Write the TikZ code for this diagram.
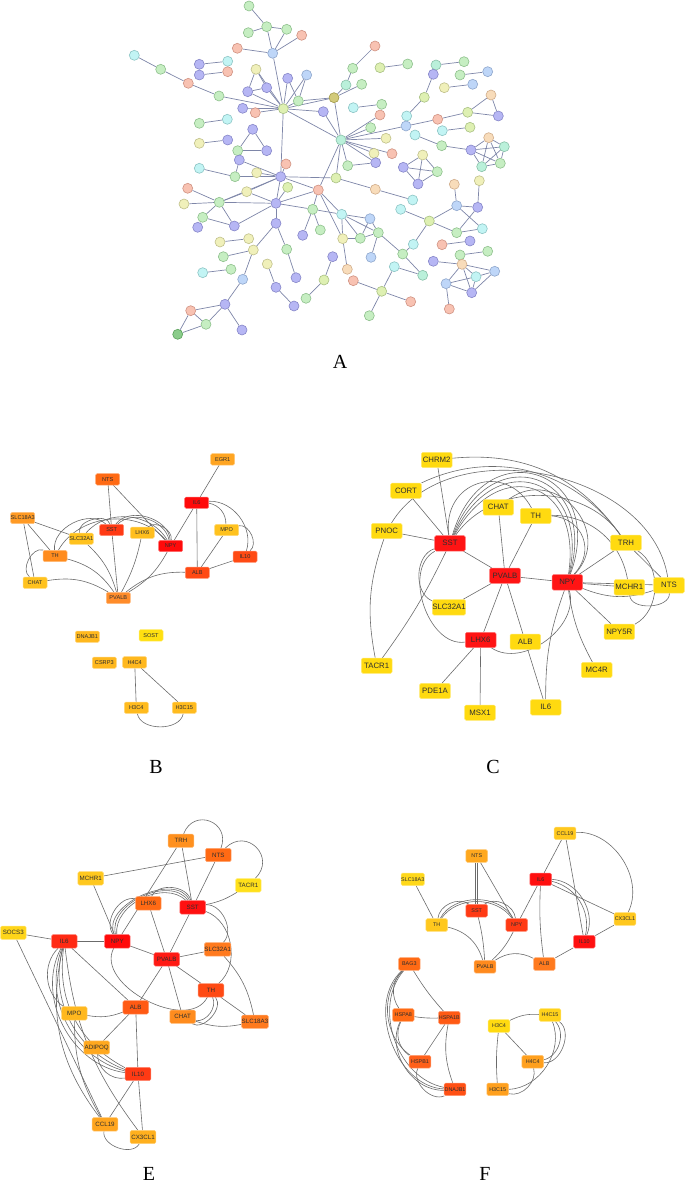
\documentclass[tikz,border=0pt]{standalone}
\usepackage{fontspec}
\setmainfont{Liberation Serif}
\newfontfamily\lab{Liberation Sans}
\usetikzlibrary{backgrounds}
\definecolor{AGf}{HTML}{C6EEC2}\definecolor{AGd}{HTML}{8EC08C}
\definecolor{APf}{HTML}{B6B6F4}\definecolor{APd}{HTML}{8686C8}
\definecolor{ACf}{HTML}{C2F4F4}\definecolor{ACd}{HTML}{8CC4C4}
\definecolor{ASf}{HTML}{F8C2B2}\definecolor{ASd}{HTML}{D09282}
\definecolor{AYf}{HTML}{F0F0BA}\definecolor{AYd}{HTML}{C0C08A}
\definecolor{AYGf}{HTML}{DEF0B2}\definecolor{AYGd}{HTML}{A8C082}
\definecolor{ABf}{HTML}{BED6F8}\definecolor{ABd}{HTML}{8EA6CC}
\definecolor{ATf}{HTML}{F8DCBA}\definecolor{ATd}{HTML}{D0AC8A}
\definecolor{AOf}{HTML}{D2CA7A}\definecolor{AOd}{HTML}{A09848}
\definecolor{ATEf}{HTML}{BAF0DA}\definecolor{ATEd}{HTML}{88C0A8}
\definecolor{ADGf}{HTML}{8ACC8A}\definecolor{ADGd}{HTML}{58A058}
\definecolor{alnc}{HTML}{7E86A8}
\tikzset{
  anode/.style={circle, minimum size=5pt, inner sep=0pt, line width=0.3pt, fill=A#1f, draw=A#1d},
  aln/.style={draw=alnc, line width=0.35pt},
  lnk/.style={draw=black!58, line width=0.3pt},
  gbox/.style={rectangle, rounded corners=0.7pt, inner sep=0pt, text=black!82, line width=0.25pt},
  bbox/.style={gbox, minimum width=12pt, minimum height=5.7pt, font=\lab\fontsize{2.8}{3}\selectfont},
  cbox/.style={gbox, minimum width=15.3pt, minimum height=7.7pt, font=\lab\fontsize{3.9}{4.5}\selectfont},
  ebox/.style={gbox, minimum width=12.8pt, minimum height=6.7pt, font=\lab\fontsize{3.1}{3.5}\selectfont},
  fbox/.style={gbox, minimum width=10.8pt, minimum height=6.3pt, font=\lab\fontsize{2.7}{3}\selectfont},
  plabel/.style={font=\fontsize{10}{12}\selectfont, inner sep=0pt}
}
\begin{document}
\begin{tikzpicture}[x=0.5pt,y=-0.5pt]
\useasboundingbox (0,0) rectangle (685,1187);
% ---------------- Panel A ----------------
\foreach \n/\x/\y/\c in {1/249/6/G, 2/266.7/26.7/G, 3/248.3/32.7/G, 4/286.7/29.3/G, 5/301.7/35.3/S, 6/272.7/53.3/B, 7/237.3/48.3/S, 8/134.3/55.3/C, 9/160.7/69.3/G, 10/199.3/64.3/P, 11/227.7/61.3/C, 12/199.3/75/P, 13/227.7/71.7/S, 14/188.3/83.3/S, 15/219/96/G, 16/256/69.3/Y, 17/287.7/78.3/P, 18/306.7/75/B, 19/266.7/87.7/P, 20/247.7/91.7/P, 21/298.3/101/G, 22/334/97.7/O, 23/242.7/108.3/P, 24/255.3/112.7/S, 25/283.3/108.7/YG, 26/323.3/111.7/P, 27/352.7/68.3/G, 28/346/85/TE, 29/199.3/123.3/G, 30/227.3/119.3/C, 31/252.7/129.3/P, 32/199.3/143.3/Y, 33/227.7/140/P, 34/237.7/150.7/G, 35/266.7/150.7/P, 36/239.3/160/P, 37/286/164/S, 38/341/140/TE, 39/199.3/168.3/C, 40/235/176.7/G, 41/256.7/172.7/Y, 42/280.7/176.7/P, 43/347.7/165.7/G, 44/336/178/YG, 45/375/46/S, 46/380/67.7/YG, 47/407.7/64/G, 48/436/65/TE, 49/464/61.7/G, 50/433.3/74.3/P, 51/460/75/G, 52/487.7/71.7/B, 53/361.7/84.3/G, 54/444.3/87.7/Y, 55/472.7/84.3/B, 56/424.3/97.3/YG, 57/491/95/T, 58/353.3/107.7/C, 59/381.7/104.3/G, 60/380/115/S, 61/467.7/112.3/YG, 62/498.3/116/P, 63/406.7/116/C, 64/437.7/119.3/S, 65/370.7/127.7/G, 66/406/126/B, 67/442.3/130.7/C, 68/470/127.3/YG, 69/386/138.3/Y, 70/415/135/C, 71/441.7/145.7/G, 72/488.7/137.7/T, 73/471/150/P, 74/504.3/146.7/TE, 75/374/153.3/Y, 76/392/153.7/S, 77/481.7/166.7/TE, 78/500.3/163.3/G, 79/375.7/162.7/P, 80/422.7/155/Y, 81/403.3/167.3/P, 82/437.3/171.7/G, 85/187.7/188.3/S, 86/246.7/191.7/Y, 87/287.7/187.3/YG, 88/318.3/190/S, 89/184/204/Y, 90/219.3/202.3/G, 91/276/203.3/P, 92/312.7/209.3/G, 93/341.7/214.3/C, 94/202.7/217.3/G, 95/197.7/227.3/P, 96/234.3/226/P, 97/276/223.3/P, 98/302.7/235.3/P, 99/320.3/230/G, 100/342.7/238.7/Y, 101/220/242/Y, 102/248.7/238.7/Y, 103/253.3/250/Y, 104/286.7/249.3/G, 105/223.3/256.7/G, 106/332.7/256.7/P, 107/202.7/272.7/C, 108/231/269.3/G, 109/267.3/264/Y, 110/242.7/279.3/B, 111/296/277.7/P, 112/324/280/YG, 113/347.3/269.3/T, 114/276/287.3/P, 115/306/298.3/G, 116/294/306/P, 117/225/304.3/P, 118/190.7/310.7/S, 119/206/324.3/G, 120/177.7/334.3/DG, 121/242/330/P, 122/375.3/189.3/T, 123/412.7/200/C, 124/400.7/209.3/C, 125/429.3/221/YG, 126/454.3/184.3/T, 127/479.3/180.7/Y, 128/456.7/205.7/B, 129/477.7/207.3/P, 130/482.3/228.7/C, 131/456.7/232.7/G, 132/370/218.7/B, 133/378.3/232.7/G, 134/360.3/238.3/G, 135/413.3/244.3/C, 136/402.7/254/G, 137/442/244.7/S, 138/470/241/P, 139/371/257.3/B, 140/460/255/G, 141/487.7/251.3/G, 142/433.3/261.3/P, 143/462/264.3/T, 144/476/276.7/C, 145/494.7/271.3/B, 146/446/283.7/B, 147/471.7/292.7/P, 148/422.7/275.3/TE, 149/394.3/266.7/C, 150/353.3/280.7/S, 151/381.7/291.3/YG, 152/410.7/301.7/S, 153/449.3/309/S, 154/369.3/315.7/G, 155/418/184/P}
  \node[anode=\c] (a\n) at (\x,\y) {};
\begin{pgfonlayer}{background}
\foreach \p/\q in {1/2, 2/3, 2/4, 2/6, 4/6, 5/6, 7/6, 6/25, 8/9, 9/14, 14/15, 10/11, 12/13, 15/25, 16/19, 16/20, 19/20, 19/25, 20/25, 16/25, 17/25, 18/25, 17/21, 18/21, 21/25, 21/22, 22/25, 23/25, 24/25, 26/25, 25/38, 22/38, 26/38, 22/28, 22/53, 27/28, 45/27, 25/42, 29/30, 31/34, 31/35, 34/35, 32/33, 36/42, 36/40, 37/42, 39/40, 40/42, 41/42, 42/44, 42/91, 42/90, 42/88, 42/86, 38/60, 38/65, 38/66, 38/69, 38/75, 38/76, 38/79, 38/43, 38/88, 38/44, 46/47, 48/49, 48/50, 50/56, 51/52, 54/55, 56/63, 66/64, 64/61, 57/61, 57/62, 61/62, 58/59, 67/68, 70/71, 71/73, 72/73, 72/74, 72/77, 72/78, 73/74, 73/77, 73/78, 74/77, 74/78, 77/78, 80/81, 80/82, 81/82, 155/80, 155/81, 155/82, 43/79, 85/90, 89/90, 90/94, 90/96, 94/96, 94/95, 86/91, 86/90, 91/87, 91/88, 91/92, 91/96, 91/97, 91/90, 97/103, 97/104, 104/111, 101/102, 103/110, 110/117, 105/103, 107/108, 109/114, 114/116, 112/106, 112/115, 117/118, 117/119, 117/121, 118/119, 118/120, 119/120, 92/98, 92/99, 88/92, 88/93, 88/100, 93/92, 44/122, 122/123, 124/125, 125/128, 125/131, 128/126, 128/129, 128/130, 129/127, 129/131, 131/130, 125/135, 135/136, 136/148, 133/136, 93/132, 93/133, 93/134, 93/100, 132/133, 132/134, 134/133, 100/134, 100/113, 133/139, 142/143, 143/144, 143/145, 143/146, 143/147, 144/145, 144/146, 146/147, 145/147, 146/153, 144/147, 137/138, 140/141, 149/151, 150/151, 151/152, 151/154, 148/149}
  \draw[aln] (a\p) -- (a\q);
\end{pgfonlayer}
\node[plabel] (labA) at (340,362) {A};
% ---------------- Panel B ----------------
\foreach \n/\x/\y/\c in {EGR1/222.7/459.3/FFA522, NTS/107.7/479.3/FF6A14, IL6/196.7/502.7/FF0A0A, SLC18A3/22.7/518/FF9A24, SST/111.7/530/FF3A14, LHX6/142.3/532.7/FFBE1E, SLC32A1/81.3/538.7/FFC21E, MPO/226.7/530/FFC21E, NPY/170.7/546/FF0A0A, TH/55/556/FF8C1E, IL10/245/556.7/FF4A14, ALB/197.3/572.7/FF4A14, CHAT/35/582.7/FFC21E, PVALB/118.3/598/FF8C2A, DNAJB1/87.3/636.7/FFB81E, SOST/151/635.3/FFE010, CSRP3/104.3/662.7/FFB81E, H4C4/134.7/662.3/FFB81E, H3C4/136.3/707.7/FFBB1E, H3C15/184.3/707.7/FFBB1E}
  {\definecolor{tmpc}{HTML}{\c}\node[bbox, fill=tmpc, draw=tmpc!60!white] (b\n) at (\x,\y) {\n};}
\begin{pgfonlayer}{background}
\foreach \p/\q/\b in {EGR1/IL6/0, NTS/SST/0, NTS/NPY/0, IL6/NPY/0, IL6/ALB/0, IL6/MPO/40, IL6/IL10/55, MPO/IL10/75, MPO/ALB/0, IL10/ALB/0, ALB/PVALB/-20, SLC18A3/SLC32A1/0, SLC18A3/TH/0, SLC18A3/CHAT/0, TH/CHAT/-80, CHAT/PVALB/20, TH/PVALB/20, SLC32A1/PVALB/15, SST/PVALB/0, LHX6/PVALB/8, NPY/PVALB/15, TH/SST/70, TH/NPY/55, SLC32A1/SST/90, SLC32A1/NPY/55, SST/NPY/70, SST/NPY/60, LHX6/NPY/70, H4C4/H3C4/0, H4C4/H3C15/0, H3C4/H3C15/-80}
  \draw[lnk] (b\p) to[bend left=\b] (b\q);
\end{pgfonlayer}
\node[plabel] (labB) at (156,767) {B};
% ---------------- Panel C ----------------
\foreach \n/\x/\y/\c in {CHRM2/436.7/460/FFDA10, CORT/406/490.7/FFDA10, CHAT/498.3/507.3/FFDA10, TH/535.7/516/FFDA10, PNOC/386.7/531/FFDA10, SST/450/543.3/FF1414, TRH/626/542.7/FFDA10, PVALB/505/575.7/FF1414, NPY/567.3/582.3/FF1414, MCHR1/629.3/587.3/FFDA10, NTS/669/585.3/FFDA10, SLC32A1/449/607.3/FFDA10, NPY5R/619.3/631.7/FFDA10, LHX6/480.7/640/FF1414, ALB/525.3/641.7/FFDA10, TACR1/376.7/665.7/FFDA10, MC4R/596.7/670/FFDA10, PDE1A/435/691/FFDA10, MSX1/480/712.7/FFDA10, IL6/545.7/707.3/FFDA10}
  {\definecolor{tmpc}{HTML}{\c}\node[cbox, fill=tmpc, draw=tmpc!60!white] (c\n) at (\x,\y) {\n};}
\begin{pgfonlayer}{background}
\foreach \p/\q/\b in {CHRM2/SST/0, CORT/SST/0, PNOC/SST/0, SST/PVALB/0, CHAT/PVALB/0, TH/PVALB/0, PVALB/NPY/0, PVALB/SLC32A1/0, PVALB/LHX6/0, PVALB/ALB/0, ALB/IL6/0, LHX6/PDE1A/0, LHX6/MSX1/0, SST/TACR1/5, PNOC/TACR1/-15, NPY/TRH/0, NPY/MCHR1/0, NPY/NTS/0, NPY/NPY5R/0, NPY/MC4R/-10, NPY/IL6/-10, TRH/NTS/0, SST/TRH/55, CHRM2/TRH/30, CORT/TRH/40, PNOC/NTS/70, TH/MCHR1/40, SST/SLC32A1/-70, SST/LHX6/-80, LHX6/NPY/-70, NTS/MCHR1/90, TRH/NPY5R/60, NPY/NTS/-20}
  \draw[lnk] (c\p) to[bend left=\b] (c\q);
\foreach \b/\l in {80/2.0, 84/2.1, 88/2.2, 92/2.3}
  \draw[lnk] (cSST) to[bend left=\b, looseness=\l] (cNPY);
\draw[lnk] (cSST) to[bend left=80, looseness=1.6] (cTH);
\draw[lnk] (cCHAT) to[bend left=85, looseness=1.5] (cNPY);
\draw[lnk] (cTH) to[bend left=65, looseness=1.3] (cNPY);
\end{pgfonlayer}
\node[plabel] (labC) at (493,767) {C};
% ---------------- Panel E ----------------
\foreach \n/\x/\y/\c in {TRH/181/840.7/FF901E, NTS/218.3/855/FF6A14, MCHR1/90.7/878.3/FFC81E, TACR1/248.3/885.3/FFE01A, LHX6/148.3/903.3/FF6A14, SST/192.7/907.3/FF1010, SOCS3/13.3/932.7/FFD51A, IL6/64.3/941.3/FF2A14, NPY/117.3/941.3/FF0A0A, PVALB/166.7/959.3/FF1A14, SLC32A1/217.7/949.3/FF7A1E, TH/211/990.3/FF4A14, ALB/135.7/1007.3/FF5A14, MPO/74.3/1013.3/FFB81E, CHAT/182.7/1016.7/FF8C1E, SLC18A3/255/1021.7/FF7A1E, ADIPOQ/96.7/1047.5/FFA81E, IL10/138/1074/FF3A14, CCL19/105/1124.3/FFA51E, CX3CL1/143/1137/FFB01E}
  {\definecolor{tmpc}{HTML}{\c}\node[ebox, fill=tmpc, draw=tmpc!60!white] (e\n) at (\x,\y) {\n};}
\begin{pgfonlayer}{background}
\foreach \p/\q/\b in {SOCS3/IL6/0, SOCS3/CCL19/0, MPO/CCL19/-15, IL6/IL10/-35, IL6/IL10/-42, IL6/IL10/-48, IL6/IL10/-55, IL6/CX3CL1/-15, IL6/CCL19/-25, IL6/MPO/-50, IL6/NPY/0, IL6/ALB/0, NPY/PVALB/0, NPY/MCHR1/0, NPY/TRH/0, NPY/SST/70, NPY/SST/80, NPY/SST/90, NPY/LHX6/70, NPY/TH/-90, MCHR1/NTS/0, TRH/SST/0, NTS/SST/0, TACR1/SST/10, LHX6/PVALB/0, SST/PVALB/0, LHX6/SST/70, SST/SLC32A1/70, SST/TH/60, PVALB/SLC32A1/0, PVALB/TH/0, PVALB/CHAT/0, PVALB/ALB/0, TH/SLC18A3/0, SLC32A1/SLC18A3/15, CHAT/SLC18A3/-15, TH/CHAT/80, TH/CHAT/60, ALB/MPO/15, ALB/ADIPOQ/0, ALB/IL10/0, ADIPOQ/IL10/-50, IL10/CCL19/0, IL10/CX3CL1/0, CCL19/CX3CL1/-80}
  \draw[lnk] (e\p) to[bend left=\b] (e\q);
\draw[lnk] (eTRH) to[bend left=90, looseness=1.8] (eNTS);
\draw[lnk] (eNTS) to[bend left=90, looseness=1.8] (eTACR1);
\end{pgfonlayer}
\node[plabel] (labE) at (149,1174) {E};
% ---------------- Panel F ----------------
\foreach \n/\x/\y/\c in {CCL19/565/833.3/FFC81E, NTS/476.7/856/FFA81E, SLC18A3/412.7/879.3/FFD81A, IL6/540.7/879.3/FF1010, SST/476.7/910.7/FF3A14, CX3CL1/625/919/FFC81E, TH/436.7/925/FFC81E, NPY/516.7/925/FF3A14, IL10/584.3/941.7/FF1010, PVALB/485/966.7/FF8A1E, ALB/544.3/964/FF7A1E, BAG3/409.3/964/FF6A14, HSPA8/403.3/1015/FF6A14, HSPA1B/449.3/1017.7/FF5A14, H3C4/499/1026/FFDA10, H4C15/550/1015/FFD21A, HSPB1/420/1061.7/FF601A, H4C4/532.7/1061.7/FFA01E, DNAJB1/455/1089.3/FF5014, H3C15/497.7/1089.3/FFA01E}
  {\definecolor{tmpc}{HTML}{\c}\node[fbox, fill=tmpc, draw=tmpc!60!white] (f\n) at (\x,\y) {\n};}
\begin{pgfonlayer}{background}
\foreach \p/\q/\b in {SLC18A3/TH/0, NTS/NPY/0, TH/SST/60, TH/NPY/55, TH/NPY/62, SST/NPY/60, TH/PVALB/30, SST/PVALB/5, NPY/PVALB/10, PVALB/ALB/30, IL6/NPY/0, IL6/ALB/-5, IL6/CCL19/0, IL6/IL10/45, IL6/IL10/55, IL6/CX3CL1/0, CCL19/IL10/0, CCL19/CX3CL1/60, CX3CL1/IL10/0, IL10/ALB/0, BAG3/HSPA1B/-5, BAG3/HSPA8/-40, BAG3/HSPB1/-50, BAG3/DNAJB1/-60, BAG3/DNAJB1/-68, HSPA8/HSPA1B/-5, HSPA1B/HSPB1/0, HSPA1B/DNAJB1/-15, HSPA8/HSPB1/-40, HSPA8/DNAJB1/-60, HSPB1/DNAJB1/-70, H3C4/H4C15/15, H3C4/H4C4/0, H3C4/H3C15/-5, H4C15/H4C4/60, H4C15/H4C4/75, H4C4/H3C15/60, H4C15/H3C15/55}
  \draw[lnk] (f\p) to[bend left=\b] (f\q);
\draw[lnk] ([xshift=-0.5pt]fNTS.south) -- ([xshift=-0.5pt]fSST.north);
\draw[lnk] ([xshift=0.5pt]fNTS.south) -- ([xshift=0.5pt]fSST.north);
\end{pgfonlayer}
\node[plabel] (labF) at (485,1174) {F};
\end{tikzpicture}
\end{document}
